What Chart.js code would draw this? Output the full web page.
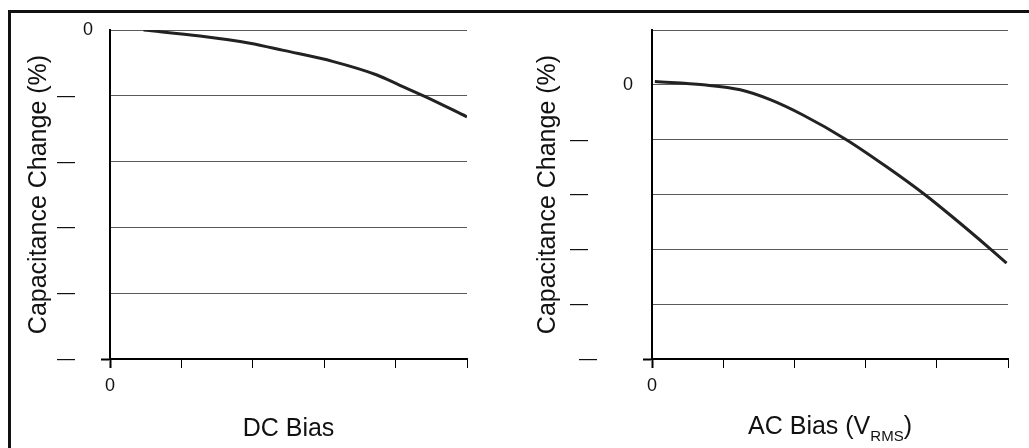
<!DOCTYPE html>
<html lang="en">
<head>
    <meta charset="UTF-8">
    <title>Capacitance Change vs Bias</title>
    <script src="https://cdn.jsdelivr.net/npm/chart.js"></script>
    <style type="text/css">
        body{
            margin: 0;
            background: #fff;
        }
        .page{
            position: relative;
            width: 1029px;
            height: 448px;
            overflow: hidden;
        }
        /* marco negro: solo arriba e izquierda, sigue fuera de la imagen */
        .frame{
            position: absolute;
            left: 8px;
            top: 10px;
            width: 1100px;
            height: 600px;
            border-top: 3px solid #111;
            border-left: 3px solid #111;
        }
        #dcChart{ position: absolute; left: 0; top: 0; }
        #acChart{ position: absolute; left: 520px; top: 0; }
    </style>
</head>
<body>
    <div class="page">
        <div class="frame"></div>
        <canvas id="dcChart" width="520" height="448"></canvas>
        <canvas id="acChart" width="509" height="448"></canvas>
    </div>
    <script>
        // datos (ejes sin valores, solo divisiones)
        const dcBiasX      = [0.47, 1.26, 1.96, 2.43, 3.13, 3.73, 4.06, 4.43, 5.0];
        const dcBiasChange = [0, -0.09, -0.2, -0.31, -0.48, -0.68, -0.84, -1.02, -1.32];

        const acBiasX      = [0.04, 0.72, 1.24, 1.66, 2.12, 2.73, 3.29, 3.83, 4.23, 4.75, 4.98];
        const acBiasChange = [0.06, 0, -0.09, -0.27, -0.55, -1.0, -1.49, -2.0, -2.42, -2.99, -3.25];

        // etiquetas de los ejes
        const xTickValues   = [0, 1, 2, 3, 4, 5];
        const xTickLabels   = ['0', '', '', '', '', ''];
        const dcTickValues  = [0, -1, -2, -3, -4, -5];
        const dcTickLabels  = ['0', '—', '—', '—', '—', '—'];
        const acTickValues  = [1, 0, -1, -2, -3, -4, -5];
        const acTickLabels  = ['', '0', '—', '—', '—', '—', '—'];

        const yTitle = 'Capacitance Change (%)';
        const dcTitle = 'DC Bias';
        const acTitleMain = 'AC Bias (V';
        const acTitleSub = 'RMS';
        const acTitleEnd = ')';

        const FONT = '"Liberation Sans", Arial, sans-serif';

        function toPoints(xs, ys){
            return xs.map(function(x, i){ return {x: x, y: ys[i]}; });
        }

        function labelFor(values, labels, v){
            const i = values.indexOf(v);
            return i < 0 ? '' : labels[i];
        }

        // opciones comunes, cambian solo el rango y los huecos
        function makeConfig(points, opts){
            return {
                type: 'line',
                data: {
                    datasets: [{
                        data: points,
                        borderColor: '#222',
                        borderWidth: 3,
                        pointRadius: 0,
                        cubicInterpolationMode: 'monotone',
                        fill: false
                    }]
                },
                options: {
                    responsive: false,
                    animation: false,
                    events: [],
                    layout: {
                        padding: {left: opts.padLeft, right: opts.padRight, top: 30, bottom: 0}
                    },
                    plugins: {
                        legend: {display: false},
                        tooltip: {enabled: false}
                    },
                    scales: {
                        x: {
                            type: 'linear',
                            min: 0,
                            max: 5,
                            afterBuildTicks: function(scale){
                                scale.ticks = xTickValues.map(function(v){ return {value: v}; });
                            },
                            afterFit: function(scale){ scale.height = 448 - 359; },
                            border: {display: true, color: '#000', width: 2},
                            grid: {
                                drawOnChartArea: false,
                                drawTicks: true,
                                tickLength: 9,
                                tickColor: '#000',
                                tickWidth: function(ctx){ return ctx.index === 0 ? 2 : 1; }
                            },
                            ticks: {
                                padding: 7,
                                maxRotation: 0,
                                autoSkip: false,
                                color: '#111',
                                font: {family: FONT, size: 18},
                                callback: function(v){ return labelFor(xTickValues, xTickLabels, v); }
                            },
                            title: {
                                display: opts.xTitle !== null,
                                text: opts.xTitle || '',
                                color: '#111',
                                font: {family: FONT, size: 25},
                                padding: {top: 0, bottom: 4}
                            }
                        },
                        y: {
                            type: 'linear',
                            min: opts.yMin,
                            max: opts.yMax,
                            afterBuildTicks: function(scale){
                                scale.ticks = opts.tickValues.map(function(v){ return {value: v}; });
                            },
                            afterFit: function(scale){ scale.width = opts.axisWidth; },
                            border: {display: true, color: '#000', width: 2},
                            grid: {
                                color: '#5a5a5a',
                                lineWidth: 1,
                                drawTicks: true,
                                tickLength: 9,
                                tickWidth: 2,
                                // solo la linea de abajo sobresale a la izquierda
                                tickColor: function(ctx){ return ctx.tick && ctx.tick.value === opts.yMin ? '#000' : 'rgba(0,0,0,0)'; }
                            },
                            ticks: {
                                padding: opts.tickPad,
                                autoSkip: false,
                                color: '#111',
                                font: {family: FONT, size: 18},
                                callback: function(v){
                                    const t = labelFor(opts.tickValues, opts.tickLabels, v);
                                    if (t === '—') return t + (v === opts.yMin ? opts.dashGapBottom : opts.dashGap);
                                    return t;
                                }
                            },
                            title: {
                                display: true,
                                text: yTitle,
                                color: '#111',
                                font: {family: FONT, size: 25},
                                padding: 0
                            }
                        }
                    }
                },
                plugins: opts.plugins || []
            };
        }

        // titulo del eje x con subindice V_RMS
        const subscriptTitle = {
            id: 'subscriptTitle',
            afterDraw: function(chart){
                const xs = chart.scales.x;
                const ctx = chart.ctx;
                const big = '25px ' + FONT;
                const small = '15px ' + FONT;
                ctx.save();
                ctx.fillStyle = '#111';
                ctx.textBaseline = 'alphabetic';
                ctx.textAlign = 'left';
                ctx.font = big;
                const w1 = ctx.measureText(acTitleMain).width;
                const w3 = ctx.measureText(acTitleEnd).width;
                ctx.font = small;
                const w2 = ctx.measureText(acTitleSub).width;
                let x = (xs.left + xs.right) / 2 - (w1 + w2 + w3) / 2;
                const base = xs.bottom - 14;
                ctx.font = big;
                ctx.fillText(acTitleMain, x, base);
                x += w1;
                ctx.font = small;
                ctx.fillText(acTitleSub, x, base + 7);
                x += w2;
                ctx.font = big;
                ctx.fillText(acTitleEnd, x, base);
                ctx.restore();
            }
        };

        const dcChart = new Chart(document.getElementById('dcChart'), makeConfig(
            toPoints(dcBiasX, dcBiasChange), {
                padLeft: 24, padRight: 53, axisWidth: 86,
                yMin: -5, yMax: 0,
                tickValues: dcTickValues, tickLabels: dcTickLabels,
                tickPad: 8, dashGap: '\u2002\u2002', dashGapBottom: '\u2002\u2002',
                xTitle: dcTitle
            }));

        const acChart = new Chart(document.getElementById('acChart'), makeConfig(
            toPoints(acBiasX, acBiasChange), {
                padLeft: 13, padRight: 21, axisWidth: 119,
                yMin: -5, yMax: 1,
                tickValues: acTickValues, tickLabels: acTickLabels,
                tickPad: 10, dashGap: '\u2003\u2003\u2002', dashGapBottom: '\u2003\u2002\u2002',
                xTitle: null,
                plugins: [subscriptTitle]
            }));
    </script>
</body>
</html>
